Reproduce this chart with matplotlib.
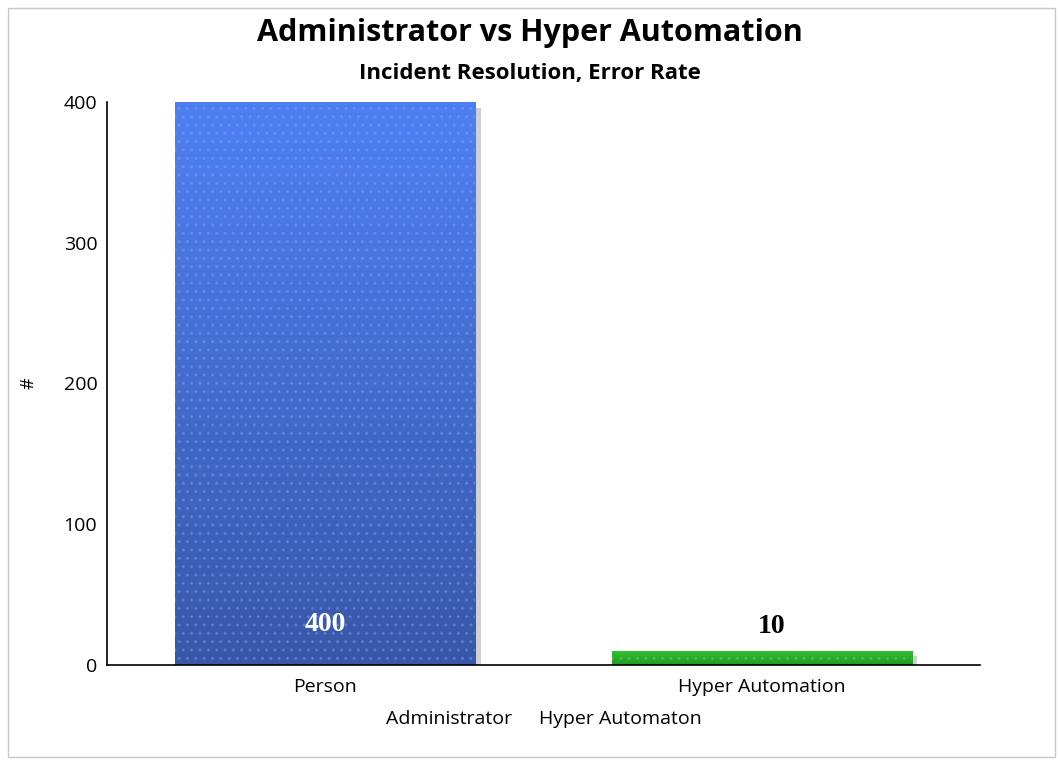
import numpy as np
import matplotlib
matplotlib.use("Agg")
import matplotlib.pyplot as plt
from matplotlib.patches import Rectangle
from matplotlib import patheffects as pe
from matplotlib.colors import LinearSegmentedColormap

categories = ["Person", "Hyper Automation"]
values = [400, 10]
series_names = ["Administrator", "Hyper Automaton"]
y_ticks = [0, 100, 200, 300, 400]

plt.rcParams['font.family'] = ['Open Sans', 'DejaVu Sans']
plt.rcParams['hatch.linewidth'] = 1.2

fig = plt.figure(figsize=(10.6, 7.62), dpi=100)
fig.patches.append(Rectangle((8/1060, 5/762), 1047/1060, 749/762, transform=fig.transFigure,
                             fill=False, edgecolor='#c8c8c8', linewidth=1))

ax = fig.add_axes([107/1060, 97/762, 873/1060, 563/762])
ax.set_xlim(-0.5, 1.5)
ax.set_ylim(0, 400)

grads = [("#4f80f3", "#3857a8", "#7ea2f5"), ("#33c233", "#229922", "#66d866")]
width = 0.688
bars = ax.bar(range(len(values)), values, width=width, color='none', edgecolor='none')
for b, (top, bot, dots) in zip(bars, grads):
    x0, y0 = b.get_x(), b.get_y()
    w, h = b.get_width(), b.get_height()
    shadow = Rectangle((x0, y0), w, h, facecolor='white', edgecolor='none', zorder=1,
                       path_effects=[pe.SimplePatchShadow(offset=(4, -4), shadow_rgbFace='#666666', alpha=0.3),
                                     pe.Normal()])
    ax.add_patch(shadow)
    cmap = LinearSegmentedColormap.from_list("g", [bot, top])
    grad = np.linspace(0, 1, 256).reshape(-1, 1)
    im = ax.imshow(grad, cmap=cmap, extent=(x0, x0 + w, y0, y0 + h), origin='lower',
                   aspect='auto', zorder=2)
    clip = Rectangle((x0, y0), w, h, transform=ax.transData, facecolor='none', edgecolor='none')
    ax.add_patch(clip)
    im.set_clip_path(clip)
    hatch = Rectangle((x0, y0), w, h, facecolor='none', edgecolor=dots, hatch='..', linewidth=0,
                      zorder=3, alpha=0.35)
    ax.add_patch(hatch)

ax.set_xlim(-0.5, 1.5)
ax.set_ylim(0, 400)

# value labels
ax.text(0, 29, f"{values[0]}", ha='center', va='center', color='white', fontsize=20,
        fontweight='bold', family='Liberation Serif', zorder=5)
ax.text(1 + 0.023, values[1] + 17, f"{values[1]}", ha='center', va='center', color='black',
        fontsize=20, fontweight='bold', family='Liberation Serif', zorder=5)

ax.set_xticks(range(len(categories)))
ax.set_xticklabels(categories, fontsize=14)
ax.set_yticks(y_ticks)
ax.set_yticklabels([str(t) for t in y_ticks], fontsize=14)
ax.tick_params(length=0)
ax.tick_params(axis='x', pad=9)
ax.tick_params(axis='y', pad=7)
for s in ['top', 'right']:
    ax.spines[s].set_visible(False)
ax.spines['left'].set_linewidth(1.2)
ax.spines['bottom'].set_linewidth(1.2)
ax.set_ylabel("#", fontsize=13)
ax.yaxis.set_label_coords(-0.08, 0.5)

fig.text(530/1060, 1 - 33/762, "Administrator vs Hyper Automation", ha='center', va='center',
         fontsize=22, fontweight='bold')
fig.text(530/1060, 1 - 73/762, "Incident Resolution, Error Rate", ha='center', va='center',
         fontsize=16, fontweight='bold')
fig.text(449/1060, 1 - 719/762, series_names[0], ha='center', va='center', fontsize=14)
fig.text(620/1060, 1 - 719/762, series_names[1], ha='center', va='center', fontsize=14)

fig.savefig("out.png", dpi=100)
